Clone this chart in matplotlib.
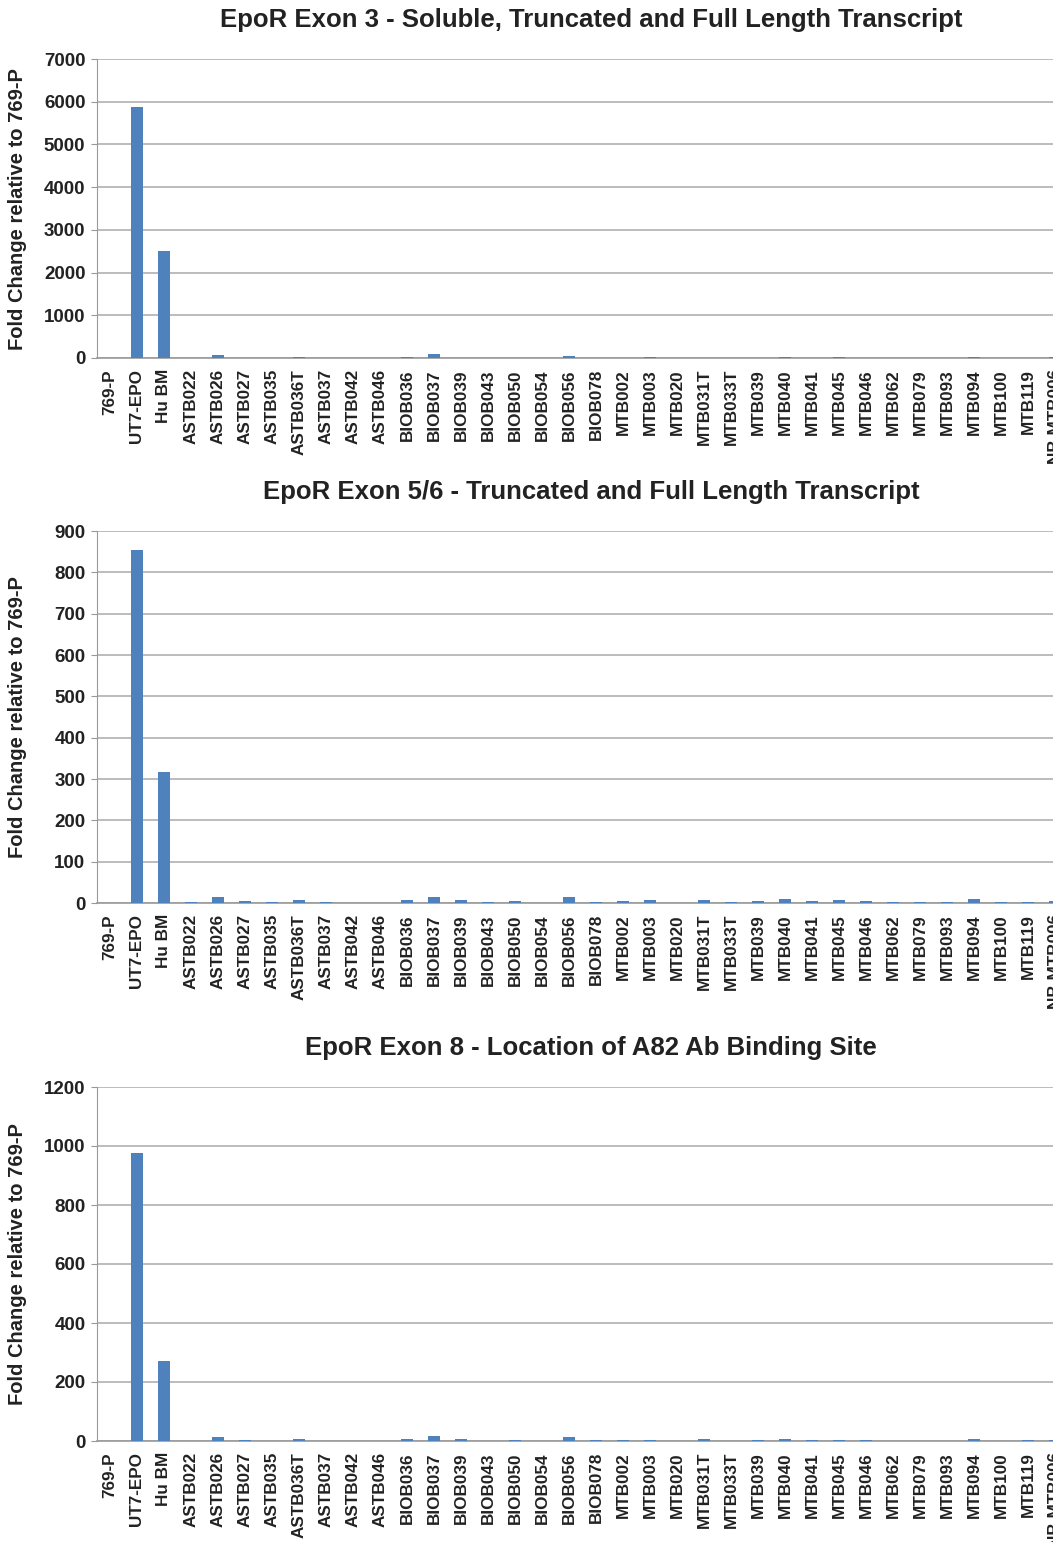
import numpy as np
import matplotlib.pyplot as plt

plt.rcParams['font.family'] = ['Liberation Sans', 'DejaVu Sans']

samples = ["769-P", "UT7-EPO", "Hu BM", "ASTB022", "ASTB026", "ASTB027", "ASTB035",
           "ASTB036T", "ASTB037", "ASTB042", "ASTB046", "BIOB036", "BIOB037", "BIOB039",
           "BIOB043", "BIOB050", "BIOB054", "BIOB056", "BIOB078", "MTB002", "MTB003",
           "MTB020", "MTB031T", "MTB033T", "MTB039", "MTB040", "MTB041", "MTB045",
           "MTB046", "MTB062", "MTB079", "MTB093", "MTB094", "MTB100", "MTB119", "NB MTB006"]

exon3 = [1, 5870, 2510, 3, 60, 2, 2, 20, 2, 1, 1, 20, 100, 5, 1, 2, 1, 40, 2, 5,
         20, 1, 10, 1, 2, 30, 3, 20, 3, 2, 2, 2, 15, 2, 3, 20]
exon56 = [1, 855, 318, 2, 15, 4, 2, 8, 3, 0.5, 0.5, 7, 15, 8, 2, 4, 1, 15, 3, 5,
          8, 1, 8, 2, 4, 9, 4, 8, 5, 2, 3, 2, 9, 2, 3, 6]
exon8 = [1, 975, 270, 0.5, 13, 2, 0.5, 7, 0.5, 0.5, 0.5, 7, 17, 6, 0.5, 3, 0.5, 13, 2, 4,
         5, 0.5, 7, 0.5, 2, 8, 3, 4, 3, 1, 1, 0.5, 6, 0.5, 2, 5]

titles = ["EpoR Exon 3 - Soluble, Truncated and Full Length Transcript",
          "EpoR Exon 5/6 - Truncated and Full Length Transcript",
          "EpoR Exon 8 - Location of A82 Ab Binding Site"]
ylims = [(7000, 1000), (900, 100), (1200, 200)]

W, H = 1053, 1542
fig = plt.figure(figsize=(W / 100, H / 100), dpi=100)

# (bottom px, top px, title y px)
panels = [(358, 59, 20), (903, 531, 492), (1441, 1087, 1048)]
left_px = 96.5
width_px = 36 * 27.0
bar_color = "#4f81bd"
text_color = "#222222"

x = np.arange(len(samples))
for data, title, (ymax, step), (bpx, tpx, typ) in zip(
        [exon3, exon56, exon8], titles, ylims, panels):
    ax = fig.add_axes([left_px / W, 1 - bpx / H, width_px / W, (bpx - tpx) / H])
    ax.bar(x, data, width=0.45, color=bar_color, zorder=3)
    ax.set_xlim(-0.5, len(samples) - 0.5)
    ax.set_ylim(0, ymax)
    ax.set_yticks(np.arange(0, ymax + 1, step))
    ax.set_xticks(x)
    ax.set_xticklabels(samples, rotation=90, fontsize=12.3, fontweight="bold", color=text_color)
    ax.tick_params(axis="x", length=0, pad=8)
    ax.tick_params(axis="y", length=4, color="#999999", labelsize=13.5, pad=4)
    for lab in ax.get_yticklabels():
        lab.set_fontweight("bold")
        lab.set_color(text_color)
    ax.grid(axis="y", color="#b0b0b0", linewidth=1.2, zorder=0)
    for s in ["top", "right"]:
        ax.spines[s].set_visible(False)
    ax.spines["left"].set_color("#999999")
    ax.spines["bottom"].set_color("#999999")
    ax.spines["bottom"].set_linewidth(1.2)
    fig.text(591 / W, 1 - typ / H, title, ha="center", va="center",
             fontsize=18.5, fontweight="bold", color=text_color)
    fig.text(18 / W, 1 - ((bpx + tpx) / 2) / H, "Fold Change relative to 769-P",
             rotation=90, ha="center", va="center", fontsize=14.5,
             fontweight="bold", color=text_color)

fig.savefig("out.png", dpi=100)
